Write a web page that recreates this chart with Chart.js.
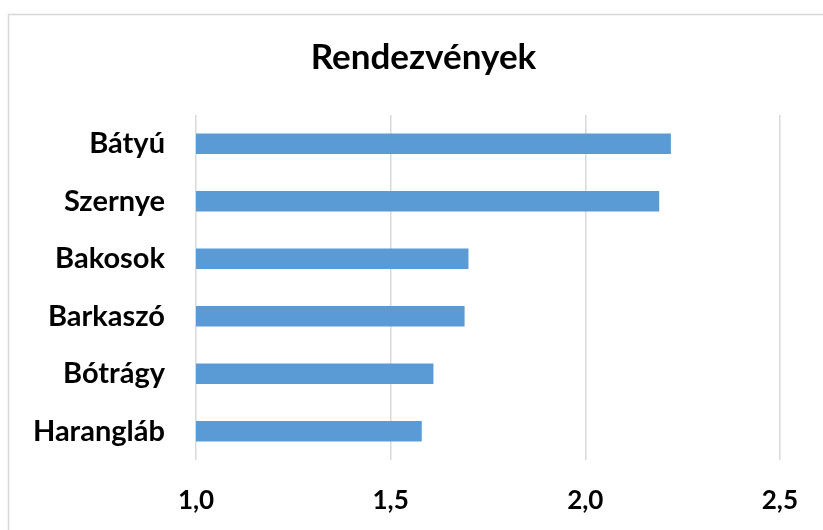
<!DOCTYPE html>
<html><head><meta charset="utf-8">
<script src="https://cdn.jsdelivr.net/npm/chart.js@4.4.0/dist/chart.umd.min.js"></script>
<style>html,body{margin:0;padding:0;background:#fff;}</style>
</head><body>
<canvas id="c" width="823" height="530"></canvas>
<script>
const categories = ['Bátyú', 'Szernye', 'Bakosok', 'Barkaszó', 'Bótrágy', 'Harangláb'];
const values = [2.22, 2.19, 1.70, 1.69, 1.61, 1.58];
const tickValues = [1.0, 1.5, 2.0, 2.5];
const chartTitle = 'Rendezvények';

const FONT = "Lato, 'Open Sans', sans-serif";

const framePlugin = {
  id: 'frame',
  beforeDraw(chart) {
    const ctx = chart.ctx;
    ctx.save();
    ctx.fillStyle = '#ffffff';
    ctx.fillRect(0, 0, chart.width, chart.height);
    ctx.strokeStyle = '#d9d9d9';
    ctx.lineWidth = 1.5;
    ctx.strokeRect(8.5, 14.5, 900, 600);
    ctx.restore();
  }
};

// centre the title on the (partly cropped) chart frame rather than the canvas
const titleCenterPlugin = {
  id: 'titleCenter',
  afterLayout(chart) {
    const t = chart.titleBlock;
    if (t) {
      t.left = 8;
      t.right = 839;
      t.width = t.right - t.left;
    }
  }
};

new Chart(document.getElementById('c'), {
  type: 'bar',
  data: {
    labels: categories,
    datasets: [{
      data: values,
      backgroundColor: '#5b9bd5',
      borderWidth: 0,
      barPercentage: 0.9,
      categoryPercentage: 0.4
    }]
  },
  options: {
    indexAxis: 'y',
    responsive: false,
    animation: false,
    layout: { padding: { left: 8, right: 40, top: 0, bottom: 0 } },
    plugins: {
      legend: { display: false },
      tooltip: { enabled: false },
      title: {
        display: true,
        text: chartTitle,
        color: '#000000',
        font: { family: FONT, size: 35, weight: 'bold', lineHeight: 1.2 },
        padding: { top: 37, bottom: 36 }
      }
    },
    scales: {
      x: {
        min: 1.0,
        max: 2.5,
        afterBuildTicks(scale) { scale.ticks = tickValues.map(v => ({ value: v })); },
        afterFit(scale) { scale.height = 70; },
        border: { display: false },
        grid: { color: '#d9d9d9', lineWidth: 1.5, drawTicks: false },
        ticks: {
          color: '#000000',
          padding: 25,
          maxRotation: 0,
          font: { family: FONT, size: 26, weight: 'bold' },
          callback: (v) => Number(v).toFixed(1).replace('.', ',')
        }
      },
      y: {
        afterFit(scale) { scale.width = 188; },
        border: { display: false },
        grid: { display: false, drawTicks: false },
        ticks: {
          color: '#000000',
          padding: 31,
          font: { family: FONT, size: 29, weight: 'bold' }
        }
      }
    }
  },
  plugins: [framePlugin, titleCenterPlugin]
});
</script>
</body></html>
